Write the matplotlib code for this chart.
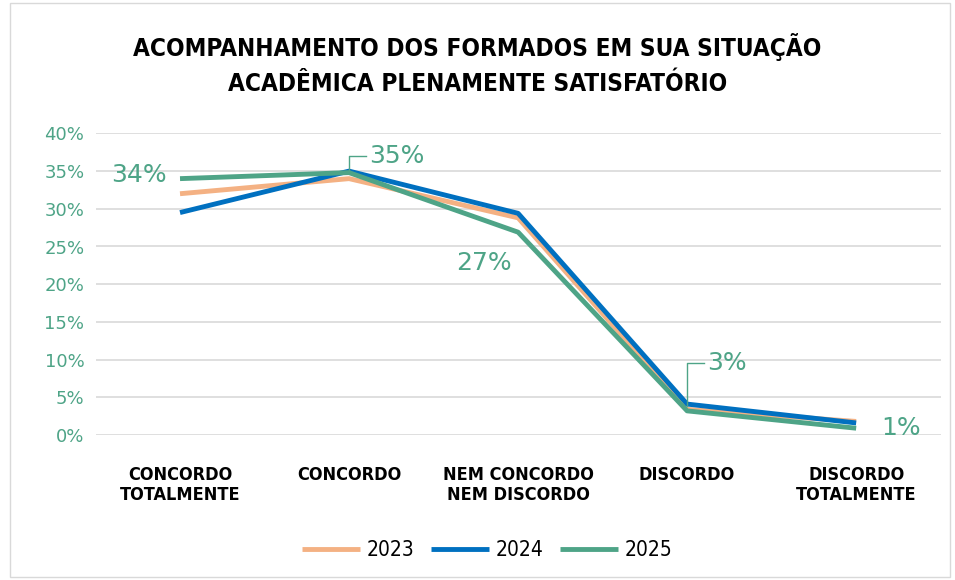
import matplotlib.pyplot as plt
from matplotlib.patches import Rectangle
from matplotlib import font_manager

categories = ["CONCORDO\nTOTALMENTE", "CONCORDO", "NEM CONCORDO\nNEM DISCORDO",
              "DISCORDO", "DISCORDO\nTOTALMENTE"]
years = ["2023", "2024", "2025"]
v2023 = [32.0, 34.0, 28.8, 3.4, 1.8]
v2024 = [29.5, 35.0, 29.4, 4.1, 1.6]
v2025 = [34.0, 34.8, 26.9, 3.2, 0.9]
label_2025 = ["34%", "35%", "27%", "3%", "1%"]
yticks = [0, 5, 10, 15, 20, 25, 30, 35, 40]

colors = ["#f4b183", "#0070c0", "#4ea487"]
teal = "#4ea487"

# narrow font if there is one installed
names = {f.name for f in font_manager.fontManager.ttflist}
narrow = [n for n in ["Liberation Sans Narrow", "DejaVu Sans Condensed"] if n in names] + ["DejaVu Sans"]
stretch = "condensed"

fig = plt.figure(figsize=(9.55, 5.8), dpi=100)
ax = fig.add_axes([0.1, 0.25, 0.885, 0.52])

x = list(range(len(categories)))
for vals, yr, c in zip([v2023, v2024, v2025], years, colors):
    ax.plot(x, vals, color=c, lw=3.5, label=yr, solid_capstyle="butt")

# labels for the 2025 series
lab = dict(color=teal, fontsize=18)
ax.text(-0.08, v2025[0] + 0.5, label_2025[0], ha="right", va="center", **lab)
ax.plot([1.0, 1.0, 1.1], [v2025[1], 37.0, 37.0], color=teal, lw=1)
ax.text(1.12, 37.0, label_2025[1], ha="left", va="center", **lab)
ax.text(1.8, 22.8, label_2025[2], ha="center", va="center", **lab)
ax.plot([3.0, 3.0, 3.1], [v2025[3] + 0.6, 9.5, 9.5], color=teal, lw=1)
ax.text(3.12, 9.5, label_2025[3], ha="left", va="center", **lab)
ax.text(4.15, 0.9, label_2025[4], ha="left", va="center", **lab)

ax.set_xlim(-0.5, 4.5)
ax.set_ylim(0, 40)
ax.set_yticks(yticks)
ax.set_yticklabels([f"{t}%" for t in yticks], color=teal, fontsize=13)
ax.set_xticks(x)
ax.set_xticklabels(categories, family=narrow, fontweight="bold", fontsize=13, fontstretch=stretch)
ax.tick_params(length=0, pad=8)
ax.tick_params(axis="x", pad=22)
ax.grid(axis="y", color="#d9d9d9", lw=1.2)
ax.set_axisbelow(True)
for s in ax.spines.values():
    s.set_visible(False)

fig.text(0.5, 0.889, "ACOMPANHAMENTO DOS FORMADOS EM SUA SITUAÇÃO\nACADÊMICA PLENAMENTE SATISFATÓRIO",
         ha="center", va="center", fontsize=17.5, fontweight="bold", family=narrow,
         fontstretch=stretch, linespacing=1.6)

leg = fig.legend(loc="center", bbox_to_anchor=(0.51, 0.052), ncol=3, frameon=False,
                 handlelength=2.8, columnspacing=0.8, handletextpad=0.3,
                 prop={"family": narrow, "size": 15, "stretch": stretch})

fig.patches.append(Rectangle((0.01, 0.005), 0.985, 0.99, transform=fig.transFigure,
                             fill=False, edgecolor="#d9d9d9", lw=1))

fig.savefig("out.png", dpi=100, facecolor="white")
